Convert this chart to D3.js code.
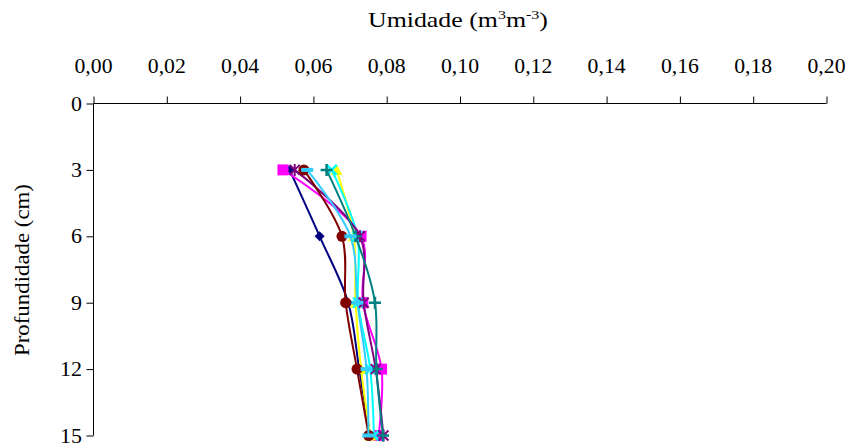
<!DOCTYPE html>
<html><head><meta charset="utf-8">
<script src="https://cdn.jsdelivr.net/npm/d3@7"></script>
<style>body{margin:0;background:#fff}svg{display:block}text{font-family:"Liberation Serif",serif;}</style>
</head><body><svg id="c" width="846" height="446"></svg>
<script>
const depths = [3, 6, 9, 12, 15];
const xTicks = [0, 0.02, 0.04, 0.06, 0.08, 0.10, 0.12, 0.14, 0.16, 0.18, 0.20];
const yTicks = [0, 3, 6, 9, 12, 15];
const seriesNames = ["S1","S2","S3","S4","S5","S6","S7","S8"];
const s1 = [0.0535, 0.0617, 0.0695, 0.0725, 0.0755];
const s2 = [0.0517, 0.0730, 0.0735, 0.0786, 0.0778];
const s3 = [0.0663, 0.0710, 0.0715, 0.0730, 0.0755];
const s4 = [0.0650, 0.0720, 0.0722, 0.0755, 0.0765];
const s5 = [0.0549, 0.0727, 0.0737, 0.0770, 0.0791];
const s6 = [0.0574, 0.0678, 0.0688, 0.0719, 0.0751];
const s7 = [0.0636, 0.0715, 0.0768, 0.0772, 0.0790];
const s8 = [0.0583, 0.0701, 0.0720, 0.0745, 0.0750];
const colors = ["#000080","#FF00FF","#FFFF00","#00FFFF","#800080","#800000","#008080","#33CCFF"];
const markers = ["diamond","square","triangle","x","star","circle","plus","dash"];
const values = [s1,s2,s3,s4,s5,s6,s7,s8];

const svg = d3.select("#c");
const x = d3.scaleLinear().domain([0,0.2]).range([93.5,826.5]);
const y = d3.scaleLinear().domain([0,15]).range([103.5,435.5]);
const fmt = v => d3.format(".2f")(v).replace(".", ",");

// x axis (top)
const xa = svg.append("g").attr("transform","translate(0,103.5)")
  .call(d3.axisTop(x).tickValues(xTicks).tickSize(7).tickFormat(""));
xa.select(".domain").attr("d","M93.5,0H826.5");
xa.selectAll("line").attr("stroke","#000");
svg.append("g").selectAll("text").data(xTicks).join("text")
  .attr("x", d=>x(d)).attr("y", 73).attr("text-anchor","middle")
  .attr("font-size",20).attr("textLength",38).attr("lengthAdjust","spacingAndGlyphs").text(fmt);

// y axis
const ya = svg.append("g").attr("transform","translate(93.5,0)")
  .call(d3.axisLeft(y).tickValues(yTicks).tickSize(7).tickFormat(""));
ya.select(".domain").attr("d","M0,103.5V435.5");
svg.append("g").selectAll("text").data(yTicks).join("text")
  .attr("x", 82).attr("y", d=>y(d)+7).attr("text-anchor","end")
  .attr("font-size",20).attr("textLength", d=>String(d).length*11).attr("lengthAdjust","spacingAndGlyphs").text(d=>d);

// titles
const t = svg.append("text").attr("x",458).attr("y",27).attr("text-anchor","middle").attr("font-size",21)
  .attr("textLength",180).attr("lengthAdjust","spacingAndGlyphs");
t.append("tspan").text("Umidade (m");
t.append("tspan").attr("font-size",13).attr("dy",-8).text("3");
t.append("tspan").attr("dy",8).text("m");
t.append("tspan").attr("font-size",13).attr("dy",-8).text("-3");
t.append("tspan").attr("dy",8).text(")");
svg.append("text").attr("transform","translate(29,270) rotate(-90)").attr("text-anchor","middle")
  .attr("font-size",21).attr("textLength",172).attr("lengthAdjust","spacingAndGlyphs").text("Profundidade (cm)");

const line = d3.line().x(d=>x(d[0])).y(d=>y(d[1])).curve(d3.curveCatmullRom.alpha(0.5));

values.forEach((vals,i)=>{
  const pts = vals.map((v,j)=>[v,depths[j]]);
  const g = svg.append("g");
  g.append("path").attr("d", line(pts)).attr("fill","none").attr("stroke",colors[i]).attr("stroke-width",2);
  const c = colors[i];
  pts.forEach(p=>{
    const cx = x(p[0]), cy = y(p[1]);
    const m = g.append("g").attr("transform",`translate(${cx},${cy})`);
    switch(markers[i]){
      case "diamond": m.append("path").attr("d","M0,-5L5,0L0,5L-5,0Z").attr("fill",c); break;
      case "square": m.append("rect").attr("x",-5.5).attr("y",-5.5).attr("width",11).attr("height",11).attr("fill",c); break;
      case "triangle": m.append("path").attr("d","M0,-6L6,5L-6,5Z").attr("fill",c); break;
      case "x": m.append("path").attr("d","M-5,-5L5,5M5,-5L-5,5").attr("stroke",c).attr("stroke-width",2.5); break;
      case "star": m.append("path").attr("d","M-5,-5L5,5M5,-5L-5,5M0,-6V6").attr("stroke",c).attr("stroke-width",2); break;
      case "circle": m.append("circle").attr("r",5.5).attr("fill",c); break;
      case "plus": m.append("path").attr("d","M-6,0H6M0,-6V6").attr("stroke",c).attr("stroke-width",2.5); break;
      case "dash": m.append("rect").attr("x",-6).attr("y",-2).attr("width",12).attr("height",4).attr("fill",c); break;
    }
  });
});
</script></body></html>
